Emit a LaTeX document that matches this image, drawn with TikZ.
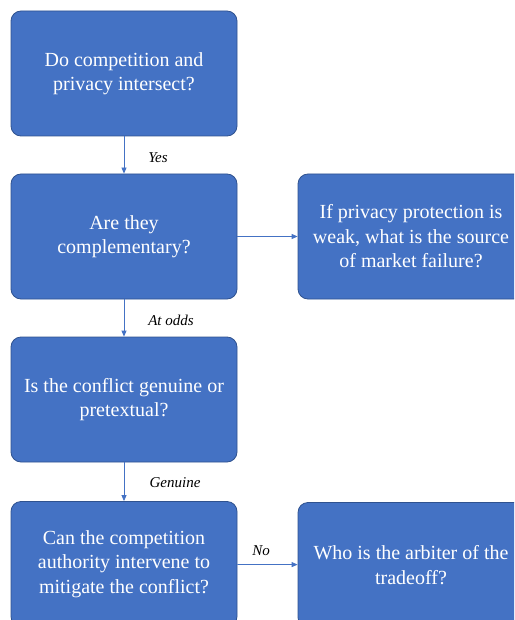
\documentclass[tikz,border=0pt]{standalone}
\usepackage{fontspec}
\setmainfont{Liberation Serif}
\newfontfamily\boxfont{Liberation Serif}
\usetikzlibrary{arrows.meta}
\definecolor{boxBlue}{HTML}{4472C4}
\definecolor{boxEdge}{HTML}{2F528F}
\newcommand{\qFont}{\boxfont\fontsize{20}{24.5}\selectfont}

\begin{document}
\begin{tikzpicture}[x=1pt,y=-1pt,
  qbox/.style={draw=boxEdge, line width=0.8pt, fill=boxBlue, rounded corners=10pt,
    minimum width=226pt, minimum height=125pt, text=white, align=center,
    font=\qFont, inner sep=0pt},
  flow/.style={draw=boxBlue, line width=0.8pt, -{Triangle[length=6pt,width=5pt]}},
  lbl/.style={font=\boxfont\fontsize{15}{17}\selectfont\itshape, inner sep=0pt}]
\clip (0,0) rectangle (514,620);
\node[qbox] (intersect) at (124,73.5) {Do competition and\\privacy intersect?};
\node[qbox] (complement) at (124,236.5) {Are they\\complementary?};
\node[qbox] (genuine) at (124,399.5) {Is the conflict genuine or\\pretextual?};
\node[qbox] (mitigate) at (124,564) {Can the competition\\authority intervene to\\mitigate the conflict?};
\node[qbox] (failure) at (411,236.5) {If privacy protection is\\weak, what is the source\\of market failure?};
\node[qbox] (arbiter) at (411,565) {Who is the arbiter of the\\tradeoff?};
\draw[flow] (intersect) -- (complement);
\draw[flow] (complement) -- (genuine);
\draw[flow] (genuine) -- (mitigate);
\draw[flow] (complement) -- (failure);
\draw[flow] (mitigate) -- (arbiter);
\node[lbl] (yes) at (158,158) {Yes};
\node[lbl] (odds) at (171,320) {At odds};
\node[lbl] (real) at (175,483) {Genuine};
\node[lbl] (no) at (261,551) {No};
\end{tikzpicture}
\end{document}
